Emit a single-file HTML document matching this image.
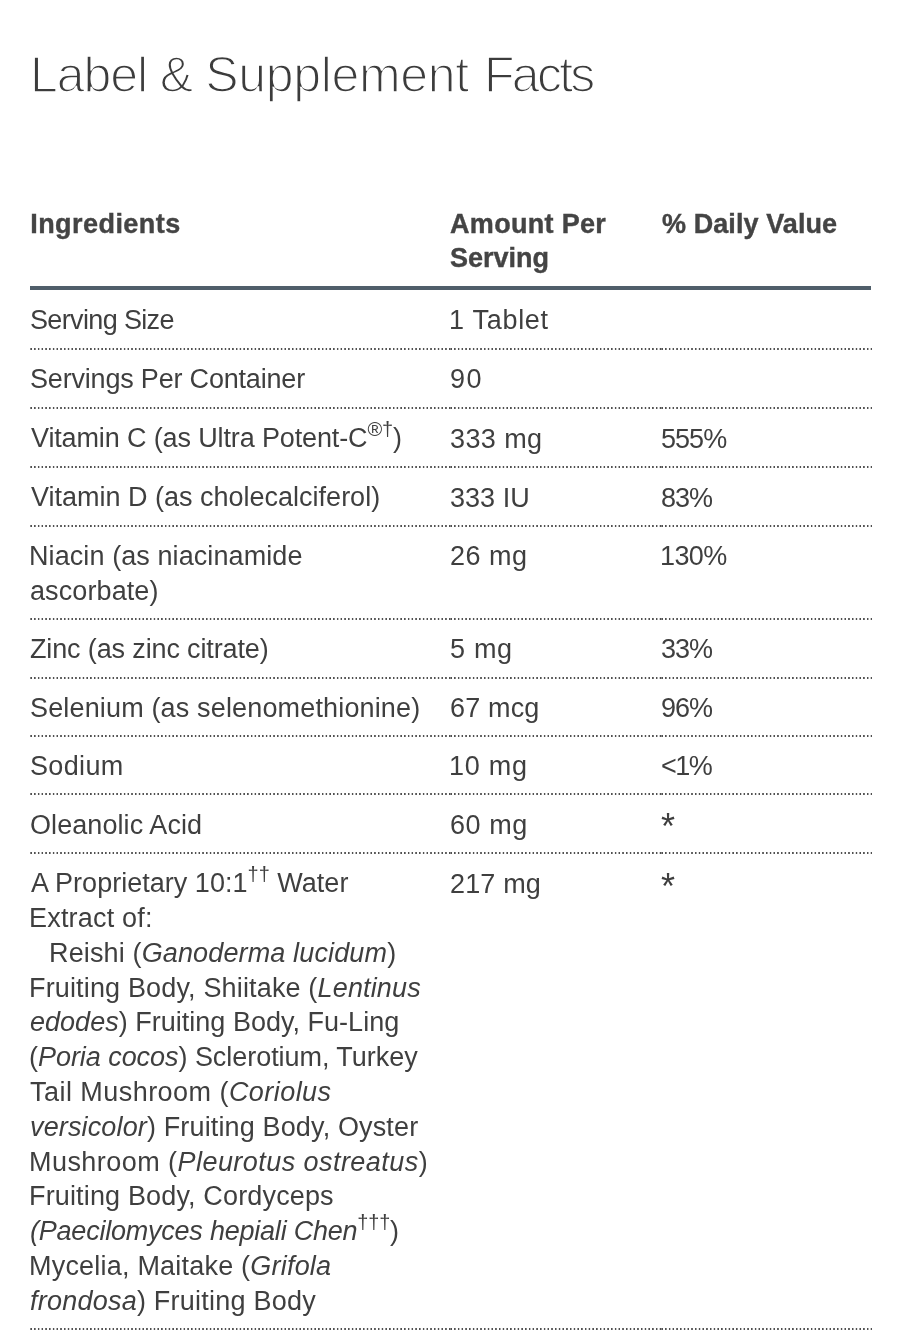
<!DOCTYPE html>
<html><head><meta charset="utf-8"><title>Label &amp; Supplement Facts</title>
<style>
html,body{margin:0;padding:0;background:#fff;}
body{width:900px;height:1337px;position:relative;overflow:hidden;font-family:"Liberation Sans",sans-serif;color:#3f3f3f;}
.t,.h,.title{position:absolute;white-space:nowrap;line-height:0;}
.wrap{position:absolute;left:0;top:0;width:900px;height:1337px;will-change:transform;}
.h{font-weight:bold;color:#444;-webkit-text-stroke:0.4px #444;}
.title{color:#3c3c3c;-webkit-text-stroke:1.6px #fff;}
i{font-style:italic;}
.ast{font-size:36px;position:relative;top:5.4px;}
sup{font-size:20px;vertical-align:0;position:relative;top:-11.2px;line-height:0;}
.thick{position:absolute;left:30px;width:841px;top:286px;height:4.2px;background:#505e6a;}
.dot{position:absolute;height:2px;}
.dot i{position:absolute;top:0;height:2px;background:repeating-linear-gradient(to right,rgba(80,80,80,0) 0,#505050 0.7px,#505050 1.5px,rgba(80,80,80,0) 2.3px,rgba(80,80,80,0) 3.7375px);}
.dot i:nth-child(1){left:30px;width:420px;}
.dot i:nth-child(2){left:450px;width:211px;}
.dot i:nth-child(3){left:661px;width:211px;}
</style></head><body>
<div class="wrap">
<div class="thick"></div>
<div class="dot" style="top:348.1px"><i></i><i></i><i></i></div>
<div class="dot" style="top:406.6px"><i></i><i></i><i></i></div>
<div class="dot" style="top:466.1px"><i></i><i></i><i></i></div>
<div class="dot" style="top:524.7px"><i></i><i></i><i></i></div>
<div class="dot" style="top:618px"><i></i><i></i><i></i></div>
<div class="dot" style="top:676.5px"><i></i><i></i><i></i></div>
<div class="dot" style="top:734.8px"><i></i><i></i><i></i></div>
<div class="dot" style="top:793.4px"><i></i><i></i><i></i></div>
<div class="dot" style="top:851.9px"><i></i><i></i><i></i></div>
<div class="dot" style="top:1328.2px"><i></i><i></i><i></i></div>
<div class="title" id="l0" style="left:30.00px;top:75.21px;font-size:50px;letter-spacing:-1.050px">Label</div>
<div class="title" id="l1" style="left:159.80px;top:75.21px;font-size:50px;letter-spacing:0.000px">&amp;</div>
<div class="title" id="l2" style="left:205.20px;top:75.21px;font-size:50px;letter-spacing:-0.322px">Supplement</div>
<div class="title" id="l3" style="left:484.00px;top:75.21px;font-size:50px;letter-spacing:-2.725px">Facts</div>
<div class="h" id="l4" style="left:30.20px;top:223.61px;font-size:27px;letter-spacing:0.450px">Ingredients</div>
<div class="h" id="l5" style="left:450.00px;top:223.81px;font-size:27px;letter-spacing:0.311px">Amount Per</div>
<div class="h" id="l6" style="left:450.00px;top:258.31px;font-size:27px;letter-spacing:0.000px">Serving</div>
<div class="h" id="l7" style="left:662.00px;top:223.61px;font-size:27px;letter-spacing:0.083px">% Daily Value</div>
<div class="t" id="l8" style="left:30.00px;top:320.00px;font-size:27px;letter-spacing:-0.645px">Serving Size</div>
<div class="t" id="l9" style="left:449.00px;top:320.00px;font-size:27px;letter-spacing:0.714px">1 Tablet</div>
<div class="t" id="l10" style="left:30.00px;top:379.40px;font-size:27px;letter-spacing:-0.190px">Servings Per Container</div>
<div class="t" id="l11" style="left:450.00px;top:379.40px;font-size:27px;letter-spacing:1.500px">90</div>
<div class="t" id="l12" style="left:31.00px;top:437.90px;font-size:27px;letter-spacing:-0.133px">Vitamin C (as Ultra Potent-C<sup>®†</sup>)</div>
<div class="t" id="l13" style="left:450.00px;top:438.90px;font-size:27px;letter-spacing:0.400px">333 mg</div>
<div class="t" id="l14" style="left:661.00px;top:438.90px;font-size:27px;letter-spacing:-0.967px">555%</div>
<div class="t" id="l15" style="left:31.00px;top:497.40px;font-size:27px;letter-spacing:0.000px">Vitamin D (as cholecalciferol)</div>
<div class="t" id="l16" style="left:450.00px;top:497.61px;font-size:27px;letter-spacing:0.020px">333 IU</div>
<div class="t" id="l17" style="left:661.00px;top:497.61px;font-size:27px;letter-spacing:-1.050px">83%</div>
<div class="t" id="l18" style="left:29.00px;top:555.90px;font-size:27px;letter-spacing:0.086px">Niacin (as niacinamide</div>
<div class="t" id="l19" style="left:30.00px;top:590.71px;font-size:27px;letter-spacing:0.100px">ascorbate)</div>
<div class="t" id="l20" style="left:450.00px;top:555.90px;font-size:27px;letter-spacing:0.500px">26 mg</div>
<div class="t" id="l21" style="left:660.00px;top:555.90px;font-size:27px;letter-spacing:-0.633px">130%</div>
<div class="t" id="l22" style="left:30.00px;top:649.31px;font-size:27px;letter-spacing:-0.138px">Zinc (as zinc citrate)</div>
<div class="t" id="l23" style="left:450.00px;top:649.31px;font-size:27px;letter-spacing:0.700px">5 mg</div>
<div class="t" id="l24" style="left:661.00px;top:649.31px;font-size:27px;letter-spacing:-1.050px">33%</div>
<div class="t" id="l25" style="left:30.00px;top:707.50px;font-size:27px;letter-spacing:0.155px">Selenium (as selenomethionine)</div>
<div class="t" id="l26" style="left:450.00px;top:707.50px;font-size:27px;letter-spacing:0.160px">67 mcg</div>
<div class="t" id="l27" style="left:661.00px;top:707.50px;font-size:27px;letter-spacing:-1.000px">96%</div>
<div class="t" id="l28" style="left:30.00px;top:766.21px;font-size:27px;letter-spacing:0.360px">Sodium</div>
<div class="t" id="l29" style="left:449.00px;top:766.21px;font-size:27px;letter-spacing:0.750px">10 mg</div>
<div class="t" id="l30" style="left:661.00px;top:766.21px;font-size:27px;letter-spacing:-1.500px">&lt;1%</div>
<div class="t" id="l31" style="left:30.00px;top:824.71px;font-size:27px;letter-spacing:0.077px">Oleanolic Acid</div>
<div class="t" id="l32" style="left:450.00px;top:824.71px;font-size:27px;letter-spacing:0.550px">60 mg</div>
<div class="t" id="l33" style="left:661.00px;top:821.71px;font-size:27px;letter-spacing:0.000px"><span class="ast">*</span></div>
<div class="t" id="l34" style="left:31.00px;top:883.21px;font-size:27px;letter-spacing:0.020px">A Proprietary 10:1<sup>††</sup> Water</div>
<div class="t" id="l35" style="left:29.00px;top:918.00px;font-size:27px;letter-spacing:0.200px">Extract of:</div>
<div class="t" id="l36" style="left:49.00px;top:952.81px;font-size:27px;letter-spacing:0.140px">Reishi (<i>Ganoderma lucidum</i>)</div>
<div class="t" id="l37" style="left:29.00px;top:987.61px;font-size:27px;letter-spacing:0.156px">Fruiting Body, Shiitake (<i>Lentinus</i></div>
<div class="t" id="l38" style="left:30.00px;top:1022.40px;font-size:27px;letter-spacing:0.017px"><i>edodes</i>) Fruiting Body, Fu-Ling</div>
<div class="t" id="l39" style="left:29.00px;top:1057.21px;font-size:27px;letter-spacing:-0.048px">(<i>Poria cocos</i>) Sclerotium, Turkey</div>
<div class="t" id="l40" style="left:30.00px;top:1092.00px;font-size:27px;letter-spacing:0.455px">Tail Mushroom (<i>Coriolus</i></div>
<div class="t" id="l41" style="left:30.00px;top:1126.81px;font-size:27px;letter-spacing:0.141px"><i>versicolor</i>) Fruiting Body, Oyster</div>
<div class="t" id="l42" style="left:29.00px;top:1161.61px;font-size:27px;letter-spacing:0.448px">Mushroom (<i>Pleurotus ostreatus</i>)</div>
<div class="t" id="l43" style="left:29.00px;top:1196.40px;font-size:27px;letter-spacing:0.152px">Fruiting Body, Cordyceps</div>
<div class="t" id="l44" style="left:30.00px;top:1231.21px;font-size:27px;letter-spacing:-0.224px"><i>(Paecilomyces hepiali Chen</i><sup>†††</sup>)</div>
<div class="t" id="l45" style="left:29.00px;top:1266.00px;font-size:27px;letter-spacing:0.208px">Mycelia, Maitake (<i>Grifola</i></div>
<div class="t" id="l46" style="left:30.00px;top:1300.81px;font-size:27px;letter-spacing:0.227px"><i>frondosa</i>) Fruiting Body</div>
<div class="t" id="l47" style="left:450.00px;top:884.11px;font-size:27px;letter-spacing:0.160px">217 mg</div>
<div class="t" id="l48" style="left:661.00px;top:881.11px;font-size:27px;letter-spacing:0.000px"><span class="ast">*</span></div>
</div>
</body></html>
